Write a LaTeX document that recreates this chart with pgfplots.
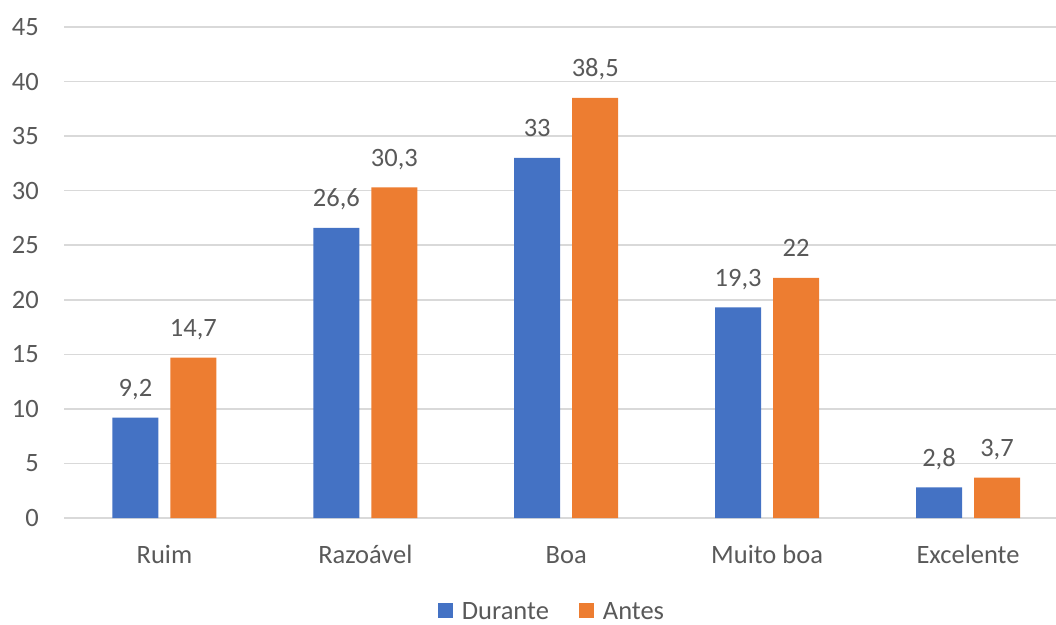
\documentclass[border=0pt]{standalone}
\usepackage{fontspec}
\setmainfont{Carlito}
\usepackage{pgfplots}
\pgfplotsset{compat=1.18}
\definecolor{cblue}{HTML}{4472C4}
\definecolor{corange}{HTML}{ED7D31}
\definecolor{ctext}{HTML}{595959}
\definecolor{cgrid}{HTML}{D9D9D9}
\begin{document}
\begin{tikzpicture}[font=\fontsize{26.5bp}{32bp}\selectfont]
\useasboundingbox (0,0) rectangle (1056bp,625bp);
\begin{axis}[
  at={(64bp,107bp)}, anchor=south west,
  scale only axis, width=992bp, height=491bp,
  xmin=-0.5, xmax=4.438, ymin=0, ymax=45,
  ybar=12bp, bar width=46bp,
  xtick={0,1,2,3,4},
  xticklabels={Ruim,Razoável,Boa,Muito boa,Excelente},
  ytick={0,5,...,45},
  major tick length=0pt,
  ymajorgrids, grid style={cgrid, line width=1.6bp},
  axis line style={draw=none},
  tick label style={text=ctext},
  yticklabel style={anchor=east, inner sep=0pt, xshift=-25bp},
  xticklabel style={anchor=base, inner sep=0pt, yshift=-45bp},
  /pgf/number format/assume math mode=true,
  /pgf/number format/use comma,
  nodes near coords,
  every node near coord/.append style={text=ctext, anchor=base, inner sep=0pt, yshift=21bp},
  clip=false,
  legend columns=2,
  legend style={at={(0.4909,-0.19)}, anchor=center, draw=none, fill=none, text=ctext,
    inner sep=0pt,
    nodes={inner sep=0pt},
    /tikz/every odd column/.append style={column sep=9bp},
    /tikz/every even column/.append style={column sep=30bp}},
]
\addplot[fill=cblue, draw=none, legend image code/.code={\fill[cblue] (0bp,-6.6bp) rectangle (15bp,8.4bp);}]
  coordinates {(0,9.2) (1,26.6) (2,33) (3,19.3) (4,2.8)};
\addplot[fill=corange, draw=none, legend image code/.code={\fill[corange] (0bp,-6.6bp) rectangle (15bp,8.4bp);}]
  coordinates {(0,14.7) (1,30.3) (2,38.5) (3,22) (4,3.7)};
\legend{Durante, Antes}
\end{axis}
\end{tikzpicture}
\end{document}
